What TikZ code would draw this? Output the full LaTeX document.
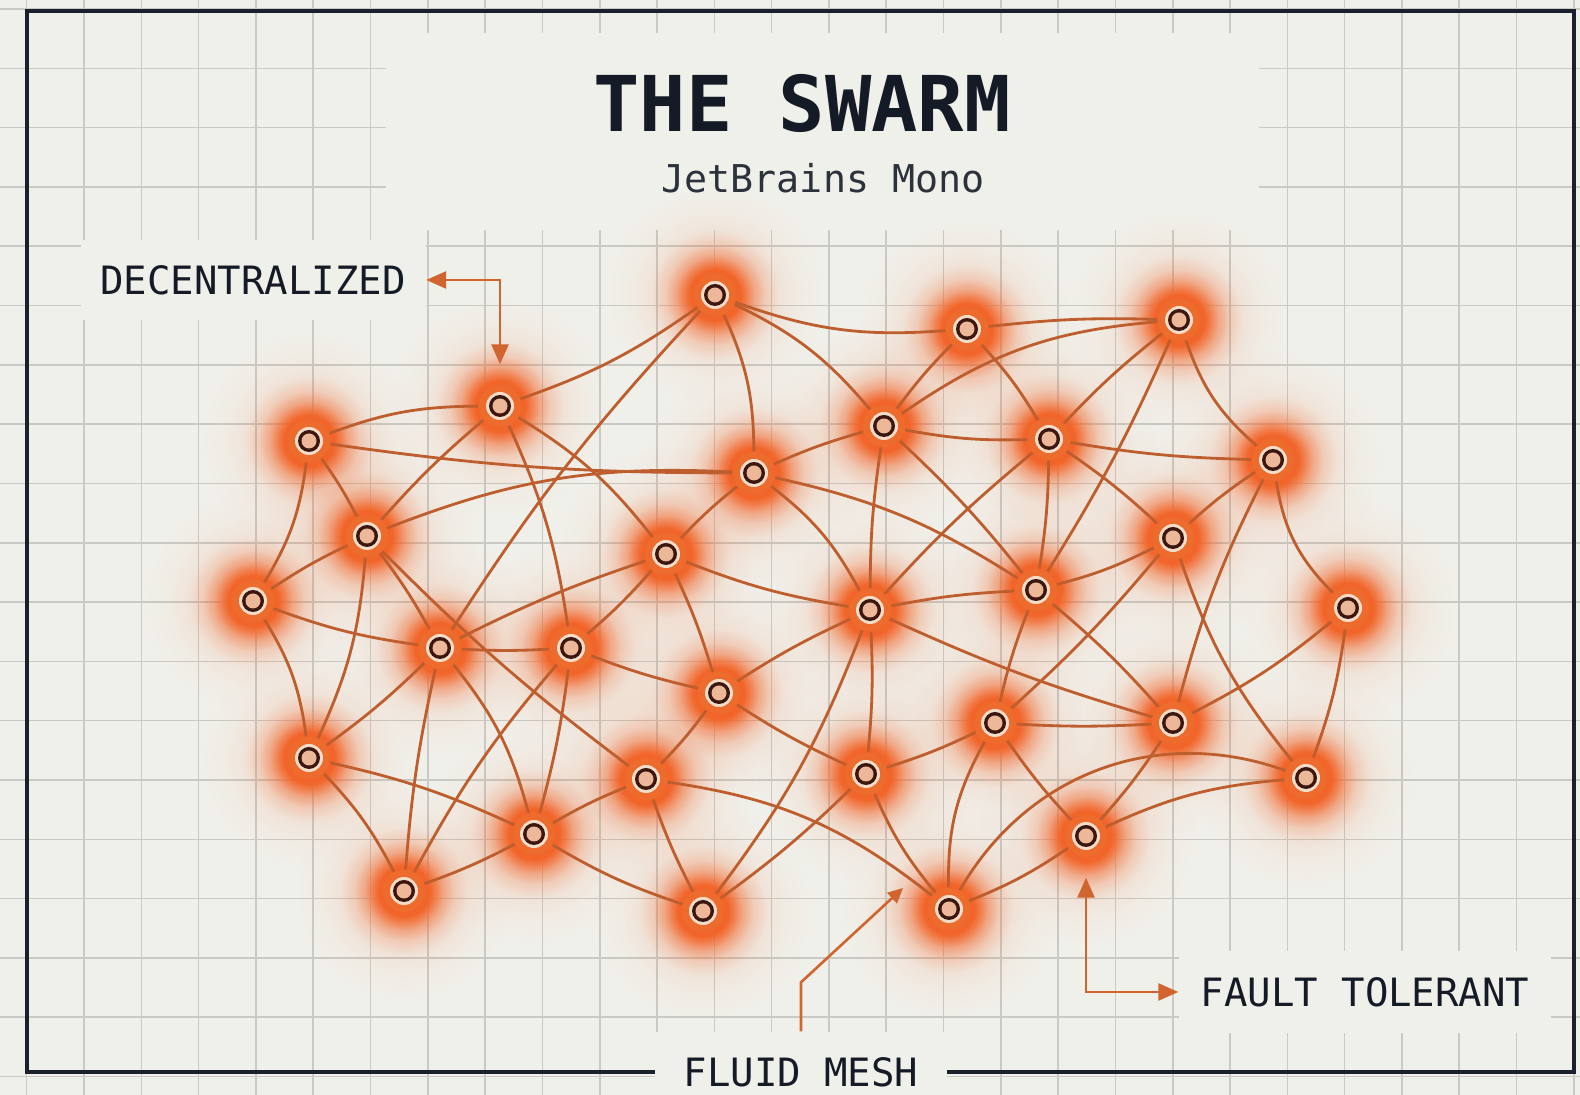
\documentclass[tikz,border=0pt]{standalone}
\usepackage{fontspec}
\setmonofont{DejaVu Sans Mono}
\usepackage{tikz}
\usetikzlibrary{positioning, arrows.meta, fadings}

\definecolor{paper}{HTML}{F0F0EA}
\definecolor{gridc}{HTML}{C9CAC5}
\definecolor{framec}{HTML}{1A202C}
\definecolor{inkc}{HTML}{151B26}
\definecolor{linkc}{HTML}{BE5E2E}
\definecolor{glowc}{HTML}{F2652A}
\definecolor{corec}{HTML}{EC6B2D}
\definecolor{creamc}{HTML}{F5DCC8}
\definecolor{ringc}{HTML}{3B1710}
\definecolor{dotc}{HTML}{EDB899}
\definecolor{calloutc}{HTML}{D0652F}

\pgfdeclareradialshading{glowshade}{\pgfpointorigin}{color(0bp)=(pgftransparent!0); color(9.5bp)=(pgftransparent!0); color(12bp)=(pgftransparent!25); color(15bp)=(pgftransparent!60); color(19bp)=(pgftransparent!88); color(24bp)=(pgftransparent!100); color(50bp)=(pgftransparent!100)}
\pgfdeclarefading{glowfade}{\pgfuseshading{glowshade}}

\pgfdeclarelayer{back}
\pgfdeclarelayer{glowlayer}
\pgfdeclarelayer{linklayer}
\pgfsetlayers{back,glowlayer,linklayer,main}

\tikzset{
  peer/.style={circle, fill=corec, minimum size=0.42cm, inner sep=0pt,
    path picture={
      \fill[creamc] (path picture bounding box.center) circle (0.14);
      \fill[ringc] (path picture bounding box.center) circle (0.11);
      \fill[dotc] (path picture bounding box.center) circle (0.075);
    }},
  meshlink/.style={linkc, line width=0.8pt},
  gridline/.style={gridc, line width=0.45pt},
  swarmlabel/.style={font=\ttfamily\fontsize{11.1}{13}\selectfont, text=inkc, fill=paper, inner sep=0pt},
  callout/.style={calloutc, line width=0.75pt, {Triangle[length=0.2cm,width=0.17cm]}-{Triangle[length=0.2cm,width=0.17cm]}},
}

\begin{document}
\begin{tikzpicture}
\useasboundingbox (0,0) rectangle (15.80,10.95);

% Paper, grid and frame
\begin{pgfonlayer}{back}
\fill[paper] (0,0) rectangle (15.80,10.95);
\foreach \i in {0,...,27} \draw[gridline] ({0.267+0.573*\i},0) -- ++(0,10.95);
\foreach \j in {-1,...,17} \draw[gridline] (0,{10.266-0.593*\j}) -- ++(15.80,0);
\fill[paper] (3.86,8.65) rectangle (12.59,10.62);
\draw[framec, line width=1pt] (0.27,0.23) rectangle (15.74,10.84);
\end{pgfonlayer}

% Title
\node[font=\ttfamily\bfseries\fontsize{21.9}{26}\selectfont, text=inkc, anchor=base] (title) at (8.02,9.63) {THE SWARM};
\node[font=\ttfamily\fontsize{10.9}{13}\selectfont, text=inkc!90, anchor=base] (typeface) at (8.23,9.02) {JetBrains Mono};

% Peers
\foreach \i/\x/\y in {1/7.15/8.00, 2/9.67/7.66, 3/11.79/7.75, 4/5.00/6.89, 5/3.09/6.54,
  6/8.84/6.69, 7/10.49/6.56, 8/12.73/6.35, 9/7.54/6.22, 10/3.67/5.59,
  11/11.73/5.57, 12/6.66/5.41, 13/2.53/4.94, 14/8.70/4.85, 15/10.36/5.05,
  16/13.48/4.87, 17/4.40/4.47, 18/5.71/4.47, 19/7.19/4.02, 20/9.95/3.72,
  21/11.73/3.72, 22/3.09/3.37, 23/6.46/3.16, 24/8.66/3.21, 25/13.06/3.17,
  26/5.34/2.61, 27/10.86/2.59, 28/4.04/2.04, 29/7.03/1.84, 30/9.49/1.86}
  \node[peer] (n\i) at (\x,\y) {};

% Glow: faint wash, then the bright halo
\begin{pgfonlayer}{glowlayer}
\foreach \i in {1,...,30} {
  \fill[glowc, opacity=0.18, path fading=glowfade] (n\i) circle (1.15);
  \fill[glowc, path fading=glowfade] (n\i) circle (0.66);
}
\end{pgfonlayer}

% Links
\begin{pgfonlayer}{linklayer}
\foreach \a/\b/\c in {1/2/-12, 4/1/-8, 1/6/12, 1/9/12, 1/17/-5,
  2/3/4, 2/6/-4, 2/7/6, 6/3/15, 3/7/-4, 3/8/-15, 3/15/4,
  5/4/10, 4/10/-4, 4/12/10, 4/18/8, 5/9/-4, 5/10/4, 5/13/12,
  6/7/-6, 9/6/4, 6/14/-4, 6/15/4, 7/8/-4, 7/11/4, 7/14/-4, 7/15/4,
  8/11/-4, 8/16/-18, 8/21/-6, 10/9/12, 9/12/-4, 9/14/12, 9/15/10,
  10/13/-4, 10/17/4, 10/22/10, 10/23/-4, 11/15/6, 11/20/4, 11/25/-10,
  12/14/-6, 17/12/4, 18/12/-4, 12/19/4, 13/17/-6, 13/22/12,
  14/15/4, 14/19/-4, 14/21/-4, 14/24/4, 14/29/8, 15/20/-4, 15/21/4,
  16/21/6, 16/25/6, 17/18/-3, 17/22/4, 17/26/12, 17/28/-4,
  18/19/-4, 18/26/4, 28/18/6, 19/23/4, 19/24/-4,
  20/21/-3, 20/24/4, 20/27/-4, 30/20/15, 21/27/4,
  22/26/6, 22/28/8, 23/26/-4, 23/29/-4, 30/23/-15,
  24/29/4, 30/24/8, 27/25/10, 30/25/40, 26/28/4, 26/29/-6, 27/30/6}
  \draw[meshlink] (n\a) to[bend left=\c] (n\b);
\end{pgfonlayer}

% Labels
\node[swarmlabel, minimum width=3.45cm, minimum height=0.8cm] (dec) at (2.53,8.15) {DECENTRALIZED};
\node[swarmlabel, minimum width=3.72cm, minimum height=0.82cm] (fault) at (13.65,1.03) {FAULT TOLERANT};
\node[swarmlabel, minimum width=2.92cm, minimum height=0.8cm] (mesh) at (8.01,0.23) {FLUID MESH};
\coordinate (meshtip) at (9.03,2.07);

% Callouts
\draw[callout, shorten >=0.2cm] (dec) -| (n4);
\draw[callout, shorten <=0.2cm] (n27) |- (fault);
\draw[callout, -{Triangle[length=0.15cm,width=0.14cm]}] (mesh.north) -- ++(0,0.49) -- (meshtip);

\end{tikzpicture}
\end{document}
